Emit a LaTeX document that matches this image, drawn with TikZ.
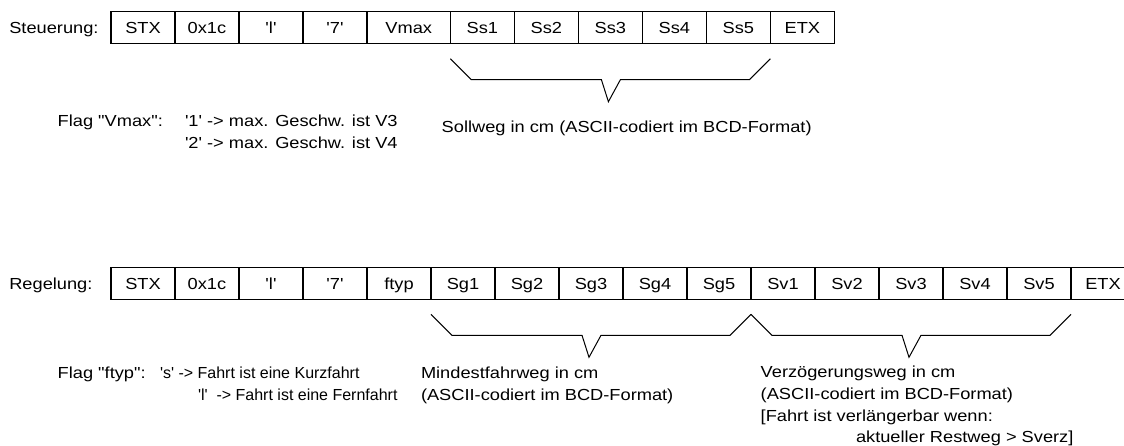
\documentclass[tikz,border=0pt]{standalone}
\usepackage{fontspec}
\setmainfont{Liberation Sans}[Ligatures=TeXOff,FakeStretch=1.14]
\newfontfamily\schmalfont{Liberation Sans}[Ligatures=TeXOff]
\usetikzlibrary{positioning,calc}

\tikzset{
	feld/.style={draw,line width=1.3pt,minimum width=64pt,minimum height=32pt,inner sep=0pt,outer sep=0pt,text height=11.6pt,text depth=0pt,font=\fontsize{16}{21.7}\selectfont},
	beschr/.style={inner sep=0pt,outer sep=0pt,align=left,anchor=north west,font=\fontsize{16}{21.7}\selectfont},
	klammer/.style={line width=1pt,line join=miter}
}

% geschweifte Klammer unter den Feldern #1 bis #2, Spitze heisst #3
\newcommand{\zeichneklammer}[3]{%
	\coordinate (#3a) at ($(#1.south west)+(0,15)$);
	\coordinate (#3b) at ($(#2.south east)+(0,15)$);
	\coordinate (#3) at ($(#3a)!0.5!(#3b)+(-2,43)$);
	\draw[klammer] (#3a) -- ++(21,21) -- ($(#3)+(-7,-22)$) -- (#3) -- ($(#3)+(12,-22)$) -- ($(#3b)+(-21,21)$) -- (#3b);
}

\begin{document}
\begin{tikzpicture}[x=1pt,y=-1pt]
			\useasboundingbox (0,0) rectangle (1124,445);

			% Steuerung
			\node[beschr] (lst) at (9.3,21.9) {Steuerung:};
			\node[feld] (st1) at (143,27.7) {STX};
			\node[feld,right=0pt of st1] (st2) {0x1c};
			\node[feld,right=0pt of st2] (st3) {'l'};
			\node[feld,right=0pt of st3] (st4) {'7'};
			\node[feld,right=0pt of st4,minimum width=83.4pt] (st5) {Vmax};
			\node[feld,right=0pt of st5] (st6) {Ss1};
			\node[feld,right=0pt of st6] (st7) {Ss2};
			\node[feld,right=0pt of st7] (st8) {Ss3};
			\node[feld,right=0pt of st8] (st9) {Ss4};
			\node[feld,right=0pt of st9] (st10) {Ss5};
			\node[feld,right=0pt of st10] (st11) {ETX};

			\zeichneklammer{st6}{st10}{ks}

			\node[beschr] (fvmax) at (57.7,114.9) {Flag "Vmax":};
			\node[beschr] (wvmax) at (185,114.9) {'1' -> max. Geschw. ist V3\\'2' -> max. Geschw. ist V4};
			\node[beschr] (soll) at (441.7,120.9) {Sollweg in cm (ASCII-codiert im BCD-Format)};

			% Regelung
			\node[beschr] (lrg) at (9.3,277.5) {Regelung:};
			\node[feld] (rg1) at (143,283.3) {STX};
			\node[feld,right=0pt of rg1] (rg2) {0x1c};
			\node[feld,right=0pt of rg2] (rg3) {'l'};
			\node[feld,right=0pt of rg3] (rg4) {'7'};
			\node[feld,right=0pt of rg4] (rg5) {ftyp};
			\node[feld,right=0pt of rg5] (rg6) {Sg1};
			\node[feld,right=0pt of rg6] (rg7) {Sg2};
			\node[feld,right=0pt of rg7] (rg8) {Sg3};
			\node[feld,right=0pt of rg8] (rg9) {Sg4};
			\node[feld,right=0pt of rg9] (rg10) {Sg5};
			\node[feld,right=0pt of rg10] (rg11) {Sv1};
			\node[feld,right=0pt of rg11] (rg12) {Sv2};
			\node[feld,right=0pt of rg12] (rg13) {Sv3};
			\node[feld,right=0pt of rg13] (rg14) {Sv4};
			\node[feld,right=0pt of rg14] (rg15) {Sv5};
			\node[feld,right=0pt of rg15] (rg16) {ETX};

			\zeichneklammer{rg6}{rg10}{kg}
			\zeichneklammer{rg11}{rg15}{kv}

			\node[beschr] (fftyp) at (57.7,367) {Flag "ftyp":};
			\node[beschr,font=\schmalfont\fontsize{16}{21.7}\selectfont] (wftyp) at (160,367) {'s' -> Fahrt ist eine Kurzfahrt\\\hspace*{38pt}'l'\ \ -> Fahrt ist eine Fernfahrt};
			\node[beschr] (mind) at (421,367) {Mindestfahrweg in cm\\(ASCII-codiert im BCD-Format)};
			\node[beschr] (verz) at (760.7,366) {Verzögerungsweg in cm\\(ASCII-codiert im BCD-Format)\\{[}Fahrt ist verlängerbar wenn:\\\hspace*{95.3pt}aktueller Restweg > Sverz]};
\end{tikzpicture}
\end{document}
